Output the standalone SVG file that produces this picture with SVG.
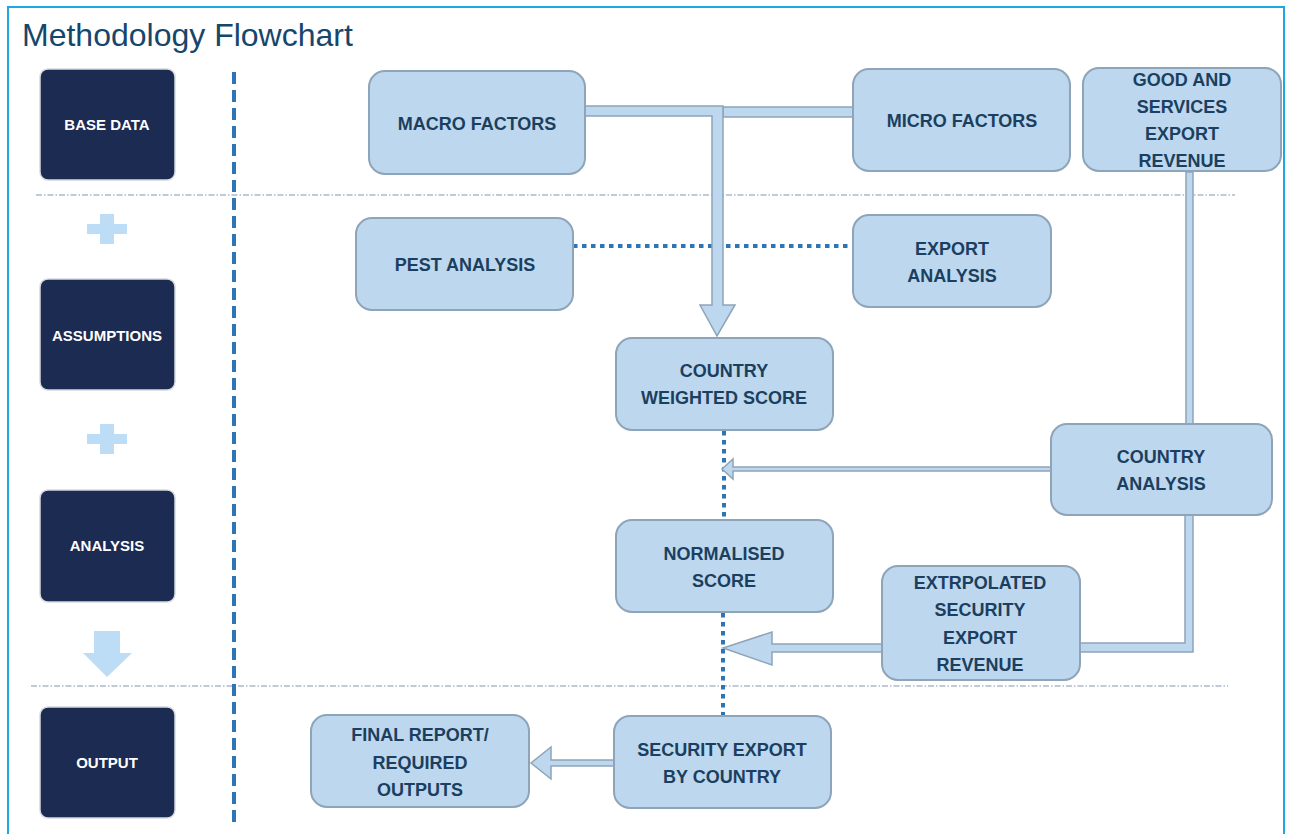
<svg xmlns="http://www.w3.org/2000/svg" width="1290" height="834" viewBox="0 0 1290 834">
  <style>
    .frame { fill: #ffffff; stroke: #1FA8E0; stroke-width: 2; }
    .title { font-family: "Liberation Sans", Arial, sans-serif; font-size: 32px; fill: #17466B; }
    .stage rect { fill: #1B2B52; stroke: #D6D9DE; stroke-width: 1.5; }
    .stage text { font-family: "Liberation Sans", Arial, sans-serif; font-size: 15px; font-weight: bold; fill: #ffffff; text-anchor: middle; }
    .node rect { fill: #BDD7EE; stroke: #8EA4B8; stroke-width: 2; }
    .node text { font-family: "Liberation Sans", Arial, sans-serif; font-size: 18px; font-weight: bold; fill: #1B3F5E; text-anchor: middle; }
    .sep { stroke: #8497B0; stroke-width: 1.2; stroke-dasharray: 6 2 1.5 2; fill: none; }
    .divider { stroke: #2E75B6; stroke-width: 4; stroke-dasharray: 12 6; fill: none; }
    .dots { stroke: #2E75B6; stroke-width: 4; stroke-dasharray: 4.5 4.5; fill: none; }
    .band { fill: #BDD7EE; stroke: #8EA4B8; stroke-width: 1.5; stroke-linejoin: miter; }
    .glyph { fill: #BDDCF5; }
  </style>

  <!-- page frame -->
  <rect class="frame" x="8" y="7" width="1276" height="840"/>
  <text class="title" x="22" y="46">Methodology Flowchart</text>

  <!-- stage separators and column divider -->
  <g id="guides">
    <line class="sep" x1="36" y1="195" x2="1235" y2="195"/>
    <line class="sep" x1="31" y1="686" x2="1228" y2="686"/>
    <line class="divider" x1="234" y1="72" x2="234" y2="822"/>
  </g>

  <!-- stage column -->
  <g id="stage-base-data" class="stage">
    <rect x="40" y="69" width="135" height="111" rx="8"/>
    <text x="107" y="129.5">BASE DATA</text>
  </g>
  <g id="stage-assumptions" class="stage">
    <rect x="40" y="279" width="135" height="111" rx="8"/>
    <text x="107" y="340.5">ASSUMPTIONS</text>
  </g>
  <g id="stage-analysis" class="stage">
    <rect x="40" y="490" width="135" height="112" rx="8"/>
    <text x="107" y="550.5">ANALYSIS</text>
  </g>
  <g id="stage-output" class="stage">
    <rect x="40" y="707" width="135" height="111" rx="8"/>
    <text x="107" y="767.5">OUTPUT</text>
  </g>

  <!-- stage glyphs: plus, plus, down arrow -->
  <g id="stage-glyphs" class="glyph">
    <path d="M100 214 H114 V224 H127 V234 H114 V244 H100 V234 H87 V224 H100 Z"/>
    <path d="M100 424 H114 V434 H127 V444 H114 V454 H100 V444 H87 V434 H100 Z"/>
    <path d="M94 631 H120 V653 H132 L107 677 L83 653 H94 Z"/>
  </g>

  <!-- connectors -->
  <g id="connectors">
    <!-- dotted links -->
    <line class="dots" x1="573" y1="246" x2="853" y2="246"/>
    <line class="dots" x1="724" y1="431" x2="724" y2="520"/>
    <line class="dots" x1="723" y1="613" x2="723" y2="716"/>

    <!-- micro factors feed into the main shaft -->
    <path class="band" d="M855 107 H723 V117 H855"/>
    <!-- macro factors to country weighted score -->
    <path class="band" d="M583 106 H723 V305 H735 L717 336 L700 305 H712 V116 H583 Z"/>

    <!-- goods and services revenue to country analysis -->
    <rect class="band" x="1186" y="172" width="7" height="252"/>

    <!-- country analysis to weighted score line -->
    <path class="band" d="M1051 467 H733 V459 L722 469 L733 479 V471 H1051 Z"/>

    <!-- country analysis to extrapolated revenue -->
    <path class="band" d="M1185 514 V643 H1078 V652 H1193 V514 Z"/>

    <!-- extrapolated revenue to normalised score line -->
    <path class="band" d="M884 644 H772 V632 L723 648 L772 665 V652 H884 Z"/>

    <!-- security export to final report -->
    <path class="band" d="M616 760 H551 V747 L531 763 L551 779 V766 H616 Z"/>
  </g>

  <!-- flow nodes -->
  <g id="macro-factors" class="node">
    <rect x="369" y="71" width="216" height="103" rx="16"/>
    <text x="477" y="129.5">MACRO FACTORS</text>
  </g>
  <g id="micro-factors" class="node">
    <rect x="853" y="69" width="217" height="102" rx="16"/>
    <text x="962" y="126.5">MICRO FACTORS</text>
  </g>
  <g id="goods-services-revenue" class="node">
    <rect x="1083" y="68" width="198" height="103" rx="16"/>
    <text x="1182" y="85.5">GOOD AND</text>
    <text x="1182" y="112.5">SERVICES</text>
    <text x="1182" y="139.5">EXPORT</text>
    <text x="1182" y="166.5">REVENUE</text>
  </g>
  <g id="pest-analysis" class="node">
    <rect x="356" y="218" width="217" height="92" rx="16"/>
    <text x="465" y="270.5">PEST ANALYSIS</text>
  </g>
  <g id="export-analysis" class="node">
    <rect x="853" y="215" width="198" height="92" rx="16"/>
    <text x="952" y="254.5">EXPORT</text>
    <text x="952" y="281.5">ANALYSIS</text>
  </g>
  <g id="country-weighted-score" class="node">
    <rect x="616" y="338" width="217" height="92" rx="16"/>
    <text x="724" y="376.5">COUNTRY</text>
    <text x="724" y="403.5">WEIGHTED SCORE</text>
  </g>
  <g id="country-analysis" class="node">
    <rect x="1051" y="424" width="221" height="91" rx="16"/>
    <text x="1161" y="462.5">COUNTRY</text>
    <text x="1161" y="489.5">ANALYSIS</text>
  </g>
  <g id="normalised-score" class="node">
    <rect x="616" y="520" width="217" height="92" rx="16"/>
    <text x="724" y="559.5">NORMALISED</text>
    <text x="724" y="586.5">SCORE</text>
  </g>
  <g id="extrapolated-revenue" class="node">
    <rect x="882" y="566" width="198" height="114" rx="16"/>
    <text x="980" y="588.5">EXTRPOLATED</text>
    <text x="980" y="615.5">SECURITY</text>
    <text x="980" y="643.5">EXPORT</text>
    <text x="980" y="670.5">REVENUE</text>
  </g>
  <g id="security-export" class="node">
    <rect x="614" y="716" width="217" height="92" rx="16"/>
    <text x="722" y="755.5">SECURITY EXPORT</text>
    <text x="722" y="782.5">BY COUNTRY</text>
  </g>
  <g id="final-report" class="node">
    <rect x="311" y="715" width="218" height="92" rx="16"/>
    <text x="420" y="740.5">FINAL REPORT/</text>
    <text x="420" y="768.5">REQUIRED</text>
    <text x="420" y="795.5">OUTPUTS</text>
  </g>
</svg>
